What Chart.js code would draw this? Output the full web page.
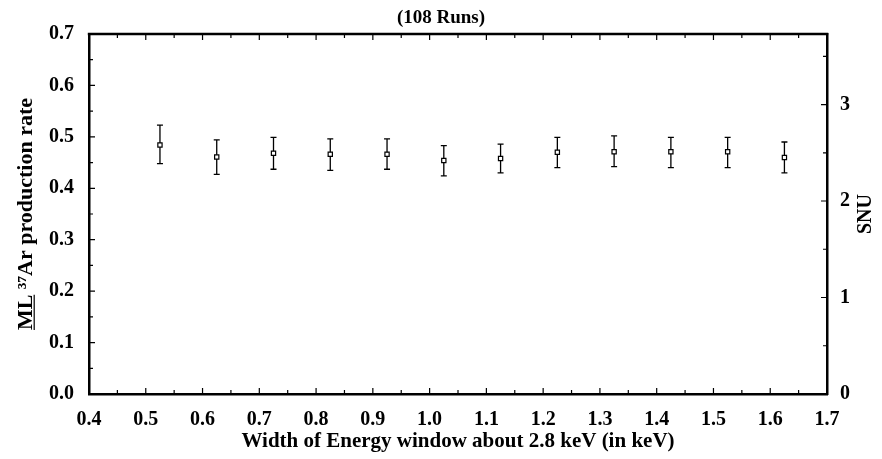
<!DOCTYPE html>
<html>
<head>
<meta charset="utf-8">
<script src="https://cdn.jsdelivr.net/npm/chart.js@4.4.1/dist/chart.umd.min.js"></script>
<style>
html,body{margin:0;padding:0;background:#fff}
</style>
</head>
<body>
<canvas id="runsChart" width="882" height="459"></canvas>
<script>

// energy window widths (keV) and ML production rate with error bounds
const windowWidths = [0.525,0.625,0.725,0.825,0.925,1.025,1.125,1.225,1.325,1.425,1.525,1.625]
const productionRate = [0.484,0.461,0.468,0.466,0.466,0.454,0.458,0.470,0.471,0.471,0.471,0.460]
const rateHigh = [0.523,0.494,0.499,0.496,0.496,0.483,0.486,0.499,0.502,0.499,0.499,0.490]
const rateLow = [0.448,0.427,0.437,0.435,0.437,0.424,0.430,0.440,0.442,0.440,0.440,0.430]

const xTicks = [0.4,0.5,0.6,0.7,0.8,0.9,1.0,1.1,1.2,1.3,1.4,1.5,1.6,1.7]
const rateTicks = [0,0.1,0.2,0.3,0.4,0.5,0.6,0.7]
const snuTicks = [0,1,2,3]
const snuPerRate = 5.33

const FONT = '"Liberation Serif", "Times New Roman", serif'
const Y_TITLE_SIZE = 22

function midpoints(arr){
  let out = []
  for(let i=0;i<arr.length-1;i++) out.push((arr[i]+arr[i+1])/2)
  return out
}

const errorBars = {
  id:"errorBars",
  beforeDatasetsDraw(chart){
    const {ctx} = chart
    const x = chart.scales.x, y = chart.scales.y
    ctx.save()
    ctx.strokeStyle = "#000"
    ctx.lineWidth = 1.3
    windowWidths.forEach((w,i)=>{
      const px = x.getPixelForValue(w)
      const top = y.getPixelForValue(rateHigh[i])
      const bot = y.getPixelForValue(rateLow[i])
      ctx.beginPath()
      ctx.moveTo(px,top); ctx.lineTo(px,bot)
      ctx.moveTo(px-3,top); ctx.lineTo(px+3,top)
      ctx.moveTo(px-3,bot); ctx.lineTo(px+3,bot)
      ctx.stroke()
    })
    ctx.restore()
  }
}

const frame = {
  id:"frame",
  afterDraw(chart){
    const {ctx, chartArea:a} = chart
    const x = chart.scales.x, y = chart.scales.y, y2 = chart.scales.y2
    ctx.save()
    ctx.strokeStyle = "#000"

    // top border
    ctx.lineWidth = 2.5
    ctx.beginPath()
    ctx.moveTo(a.left-1.2,a.top); ctx.lineTo(a.right+1.2,a.top)
    ctx.stroke()

    // inward ticks
    ctx.lineWidth = 1.2
    ctx.beginPath()
    const xt = (v,len)=>{
      const p = x.getPixelForValue(v)
      ctx.moveTo(p,a.bottom); ctx.lineTo(p,a.bottom-len)
      ctx.moveTo(p,a.top); ctx.lineTo(p,a.top+len)
    }
    xTicks.slice(1,-1).forEach(v=>xt(v,6))
    midpoints(xTicks).forEach(v=>xt(v,4))
    const yt = (v,len)=>{
      const p = y.getPixelForValue(v)
      ctx.moveTo(a.left,p); ctx.lineTo(a.left+len,p)
    }
    rateTicks.slice(1,-1).forEach(v=>yt(v,6))
    midpoints(rateTicks).forEach(v=>yt(v,4))
    const st = (v,len)=>{
      const p = y2.getPixelForValue(v)
      ctx.moveTo(a.right,p); ctx.lineTo(a.right-len,p)
    }
    snuTicks.slice(1).forEach(v=>st(v,6))
    midpoints(snuTicks.concat([4])).forEach(v=>{ if(v<y2.max) st(v,4) })
    ctx.stroke()

    // right axis title, reading upwards
    ctx.fillStyle = "#000"
    ctx.font = "bold 20px " + FONT
    ctx.save()
    ctx.translate(a.right+39,(a.top+a.bottom)/2)
    ctx.rotate(-Math.PI/2)
    ctx.textAlign = "center"
    ctx.textBaseline = "middle"
    ctx.fillText("SNU",0,0)
    ctx.restore()

    // underline "ML" in left title
    ctx.font = "bold " + Y_TITLE_SIZE + "px " + FONT
    const full = chart.options.scales.y.title.text
    const w = ctx.measureText(full).width
    const m = ctx.measureText("ML").width
    const tx = y.left + 13 + Y_TITLE_SIZE*0.6 + 8
    const cy = (y.top+y.bottom)/2
    ctx.lineWidth = 1.2
    ctx.beginPath()
    ctx.moveTo(tx,cy+w/2); ctx.lineTo(tx,cy+w/2-m)
    ctx.stroke()

    ctx.restore()
  }
}

const ctx = document.getElementById("runsChart")

const chart = new Chart(ctx,{
  type:"scatter",
  data:{
    datasets:[{
      label:"ML production rate",
      data:windowWidths.map((w,i)=>({x:w,y:productionRate[i]})),
      pointStyle:"rect",
      pointRadius:3,
      pointBorderWidth:1.2,
      borderColor:"#000",
      backgroundColor:"#fff"
    }]
  },
  options:{
    responsive:false,
    animation:false,
    devicePixelRatio:1,
    layout:{padding:0},
    plugins:{
      legend:{display:false},
      tooltip:{enabled:false},
      title:{
        display:true,
        text:"(108 Runs)",
        color:"#000",
        font:{family:FONT,size:19,weight:"bold"},
        padding:{top:7,bottom:4.2}
      }
    },
    scales:{
      x:{
        type:"linear",
        position:"bottom",
        min:0.4,
        max:1.7,
        afterBuildTicks:s=>{ s.ticks = xTicks.map(v=>({value:v})) },
        afterFit:s=>{ s.height = 65 },
        grid:{display:false},
        border:{display:true,color:"#000",width:2.5},
        ticks:{
          color:"#000",
          font:{family:FONT,size:20,weight:"bold"},
          padding:6,
          maxRotation:0,
          autoSkip:false,
          callback:v=>v.toFixed(1)
        },
        title:{
          display:true,
          text:"Width of Energy window about 2.8 keV (in keV)",
          color:"#000",
          font:{family:FONT,size:21,weight:"bold"},
          padding:{top:0,bottom:5}
        }
      },
      y:{
        type:"linear",
        position:"left",
        min:0,
        max:0.7,
        afterBuildTicks:s=>{ s.ticks = rateTicks.map(v=>({value:v})) },
        afterFit:s=>{ s.width = 89 },
        grid:{display:false},
        border:{display:true,color:"#000",width:2.5},
        ticks:{
          color:"#000",
          font:{family:FONT,size:20,weight:"bold"},
          padding:7,
          callback:v=>v.toFixed(1)
        },
        title:{
          display:true,
          text:"ML ³⁷Ar production rate",
          color:"#000",
          font:{family:FONT,size:Y_TITLE_SIZE,weight:"bold"},
          padding:{top:13,bottom:0}
        }
      },
      y2:{
        type:"linear",
        position:"right",
        min:0,
        max:0.7*snuPerRate,
        afterBuildTicks:s=>{ s.ticks = snuTicks.map(v=>({value:v})) },
        afterFit:s=>{ s.width = 55 },
        grid:{display:false},
        border:{display:true,color:"#000",width:2.5},
        ticks:{
          color:"#000",
          font:{family:FONT,size:20,weight:"bold"},
          padding:5,
          callback:v=>String(v)
        }
      }
    }
  },
  plugins:[errorBars,frame]
})

</script>
</body>
</html>
